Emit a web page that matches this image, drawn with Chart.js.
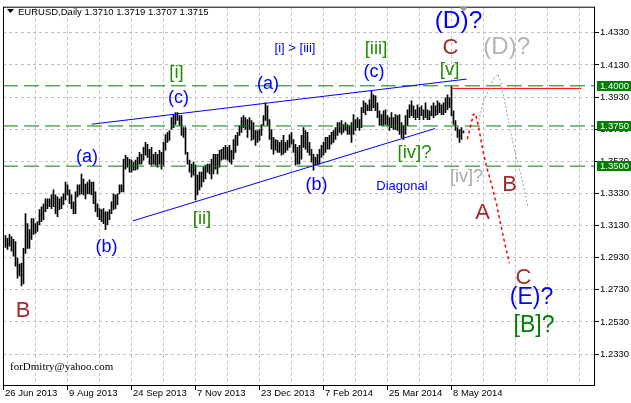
<!DOCTYPE html>
<html>
<head>
<meta charset="utf-8">
<script src="https://cdn.jsdelivr.net/npm/chart.js@4.4.0/dist/chart.umd.min.js"></script>
<style>
  html, body { margin:0; padding:0; background:#fff; }
  canvas { display:block; }
</style>
</head>
<body>
<canvas id="c" width="631" height="403"></canvas>
<script>
(function(){
  // ---------- data ----------
  const symbol = "EURUSD", period = "Daily";
  const lastBar = [1.3710, 1.3719, 1.3707, 1.3715]; // O H L C

  const barHigh = [
    1.3068,1.3050,1.3075,1.3062,1.3044,1.3031,1.2927,1.2890,1.2896,1.2988,
    1.3204,1.3142,1.3105,1.3173,1.3173,1.3142,1.3155,1.3229,1.3247,1.3266,
    1.3296,1.3296,1.3296,1.3321,1.3352,1.3321,1.3309,1.3296,1.3309,1.3327,
    1.3401,1.3383,1.3352,1.3321,1.3278,1.3340,1.3383,1.3383,
    1.3451,1.3420,1.3389,1.3401,1.3414,1.3401,1.3401,1.3340,1.3266,1.3235,
    1.3229,1.3235,1.3216,1.3216,1.3229,1.3278,1.3327,1.3321,1.3327,1.3383,
    1.3383,1.3543,1.3568,1.3555,1.3543,1.3537,1.3525,1.3537,1.3555,1.3586,
    1.3574,1.3617,1.3648,1.3636,1.3605,1.3617,1.3574,1.3586,1.3574,
    1.3599,1.3586,1.3648,1.3697,1.3710,1.3722,1.3802,1.3821,1.3833,1.3833,
    1.3814,1.3814,1.3740,1.3740,1.3586,1.3537,1.3512,1.3525,1.3506,1.3444,
    1.3463,1.3463,1.3494,1.3506,1.3512,1.3512,1.3543,1.3574,1.3574,1.3574,
    1.3599,1.3605,1.3617,1.3629,1.3617,1.3629,1.3599,1.3666,1.3691,
    1.3710,1.3753,1.3802,1.3814,1.3802,1.3790,1.3802,1.3784,1.3771,1.3722,
    1.3722,1.3728,1.3759,1.3814,1.3894,1.3876,1.3790,1.3728,1.3679,1.3666,
    1.3660,1.3648,1.3660,1.3691,1.3648,1.3660,1.3697,1.3710,1.3666,1.3636,
    1.3617,1.3629,1.3691,1.3740,1.3722,1.3710,1.3648,1.3605,1.3574,
    1.3555,1.3574,1.3605,1.3629,1.3648,1.3679,1.3679,1.3691,1.3710,1.3722,
    1.3740,1.3771,1.3771,1.3784,1.3759,1.3771,1.3759,1.3753,1.3771,1.3821,
    1.3790,1.3802,1.3790,1.3864,1.3907,1.3894,1.3882,1.3913,1.3968,1.3944,
    1.3938,1.3894,1.3845,1.3821,1.3845,1.3851,1.3814,1.3802,1.3833,
    1.3802,1.3821,1.3814,1.3821,1.3771,1.3753,1.3814,1.3851,1.3882,1.3907,
    1.3876,1.3851,1.3882,1.3864,1.3876,1.3851,1.3894,1.3851,1.3845,1.3876,
    1.3894,1.3876,1.3907,1.3894,1.3882,1.3894,1.3925,1.3944,1.3925,1.3996,
    1.3845,1.3784,1.3740,1.3728,1.3740,1.3719
  ];
  const barLow = [
    1.2994,1.2982,1.3001,1.2970,1.2939,1.2877,1.2803,1.2816,1.2754,1.2766,
    1.2957,1.2988,1.2988,1.3044,1.3075,1.3081,1.3093,1.3136,1.3155,1.3167,
    1.3216,1.3235,1.3247,1.3235,1.3247,1.3204,1.3186,1.3229,1.3235,1.3260,
    1.3290,1.3321,1.3266,1.3235,1.3204,1.3204,1.3309,1.3321,
    1.3327,1.3321,1.3296,1.3327,1.3327,1.3321,1.3266,1.3216,1.3186,1.3167,
    1.3155,1.3142,1.3105,1.3136,1.3167,1.3204,1.3229,1.3235,1.3260,1.3327,
    1.3340,1.3340,1.3481,1.3494,1.3463,1.3463,1.3475,1.3475,1.3481,1.3512,
    1.3512,1.3537,1.3568,1.3555,1.3512,1.3506,1.3512,1.3506,1.3494,
    1.3512,1.3481,1.3506,1.3599,1.3648,1.3660,1.3728,1.3740,1.3759,1.3784,
    1.3753,1.3691,1.3679,1.3574,1.3512,1.3463,1.3432,1.3444,1.3290,1.3321,
    1.3352,1.3370,1.3401,1.3420,1.3463,1.3451,1.3420,1.3451,1.3481,1.3451,
    1.3494,1.3537,1.3543,1.3543,1.3537,1.3525,1.3512,1.3543,1.3586,
    1.3629,1.3691,1.3710,1.3740,1.3728,1.3679,1.3728,1.3660,1.3666,1.3629,
    1.3648,1.3660,1.3691,1.3753,1.3784,1.3753,1.3666,1.3605,1.3574,1.3599,
    1.3586,1.3586,1.3568,1.3574,1.3586,1.3599,1.3617,1.3636,1.3586,1.3506,
    1.3512,1.3512,1.3543,1.3617,1.3605,1.3586,1.3568,1.3525,1.3475,
    1.3506,1.3506,1.3512,1.3555,1.3568,1.3586,1.3605,1.3605,1.3636,1.3648,
    1.3666,1.3691,1.3710,1.3697,1.3710,1.3722,1.3697,1.3697,1.3648,1.3697,
    1.3722,1.3740,1.3722,1.3740,1.3833,1.3821,1.3845,1.3845,1.3845,1.3864,
    1.3845,1.3802,1.3753,1.3753,1.3753,1.3759,1.3753,1.3722,1.3740,
    1.3728,1.3728,1.3722,1.3697,1.3679,1.3666,1.3697,1.3753,1.3802,1.3814,
    1.3802,1.3790,1.3802,1.3790,1.3814,1.3790,1.3802,1.3790,1.3790,1.3814,
    1.3802,1.3814,1.3821,1.3833,1.3821,1.3821,1.3833,1.3851,1.3864,1.3814,
    1.3759,1.3722,1.3679,1.3648,1.3666,1.3707
  ];

  const yTicks = [1.2330,1.2530,1.2730,1.2930,1.3130,1.3330,1.3530,1.3730,1.3930,1.4130,1.4330];
  const gridBars = [-1,15,31,47,63,79,95,111,127,143,159,175,191,207,223,239,255,271,287];
  const dateLabels = ["26 Jun 2013","9 Aug 2013","24 Sep 2013","7 Nov 2013","23 Dec 2013",
                      "7 Feb 2014","25 Mar 2014","8 May 2014"];

  const levels = [1.4000, 1.3750, 1.3500];
  const redLine = [[223, 1.3984], [288, 1.3984]];
  const upperTrend = [[43.1, 1.3761], [230.6, 1.4042]];
  const lowerTrend = [[63.6, 1.3159], [214.75, 1.3734]];
  const redPath = [[230.9,1.3668],[232.5,1.3747],[233.9,1.3821],[235,1.3827],[236.4,1.3753],
                   [238.6,1.3605],[240.6,1.3494],[243.1,1.3383],[245.6,1.3260],[247.25,1.3155],
                   [249.75,1.3013],[252,1.2896]];
  const grayPath = [[236.25,1.3759],[238.75,1.3895],[241.75,1.3981],[244.25,1.4049],[246.25,1.4073],
                    [247.75,1.4018],[249.75,1.3895],[251.75,1.3765],[254.75,1.3586],[258.25,1.3420],
                    [261.25,1.3241]];

  // text, bar index, price, style
  const waveLabels = [
    ["(a)", 40.75, 1.3549, "blueM"],
    ["(b)", 50.5, 1.2988, "blueM"],
    ["(c)", 86.5, 1.3916, "blueM"],
    ["[i]", 85.5, 1.4073, "greenM"],
    ["[ii]", 98.25, 1.3161, "greenM"],
    ["(a)", 131.25, 1.4002, "blueM"],
    ["(b)", 155.5, 1.3370, "blueM"],
    ["(c)", 184.25, 1.4079, "blueM"],
    ["[iii]", 185.25, 1.4218, "greenM"],
    ["[iv]?", 204.5, 1.3574, "greenM"],
    ["[v]", 222, 1.4092, "greenM"],
    ["C", 222.5, 1.4234, "brown"],
    ["(D)?", 226.5, 1.4388, "blueL"],
    ["(D)?", 250.6, 1.4227, "grayL"],
    ["[iv]?", 230.5, 1.3420, "grayM"],
    ["B", 252, 1.3383, "brown"],
    ["A", 238.5, 1.3210, "brown"],
    ["C", 259, 1.2806, "brown"],
    ["(E)?", 263, 1.2668, "blueE"],
    ["[B]?", 264.25, 1.2495, "greenL"],
    ["B", 8.75, 1.2600, "brown"],
    ["[i] > [iii]", 144.75, 1.4227, "blueS"],
    ["Diagonal", 198.25, 1.3367, "blueS"]
  ];
  const signature = "forDmitry@yahoo.com";

  // ---------- styles ----------
  const FONT = '"Liberation Sans", Arial, sans-serif';
  const labelStyles = {
    blueM:  { size: 18,   color: "#0000ff" },
    greenM: { size: 18.5, color: "#228b00" },
    brown:  { size: 22,   color: "#a52a2a" },
    blueL:  { size: 24.5, color: "#0000ff" },
    grayL:  { size: 24,   color: "#b4b4b4" },
    grayM:  { size: 18,   color: "#a9a9a9" },
    blueE:  { size: 23,   color: "#0000ff" },
    greenL: { size: 23,   color: "#008000" },
    blueS:  { size: 13,   color: "#0000ff" }
  };

  const pts = arr => arr.map(p => ({ x: p[0], y: p[1] }));
  const X_MIN = -1.25, X_MAX = 294.25;

  const datasets = [];
  datasets.push({
    type: "bar",
    data: barHigh.map((h, i) => ({ x: i, y: [barLow[i], h] })),
    backgroundColor: "#000",
    borderWidth: 0,
    barThickness: 1,
    grouped: false,
    order: 10
  });
  levels.forEach(lv => datasets.push({
    type: "line", data: [{ x: X_MIN, y: lv }, { x: X_MAX, y: lv }],
    borderColor: "#008000", borderWidth: 1, borderDash: [15, 6],
    pointRadius: 0, order: 5
  }));
  datasets.push({ type: "line", data: pts(redLine), borderColor: "#ff0000", borderWidth: 1, pointRadius: 0, order: 4 });
  datasets.push({ type: "line", data: pts(upperTrend), borderColor: "#0000ff", borderWidth: 1, pointRadius: 0, order: 3 });
  datasets.push({ type: "line", data: pts(lowerTrend), borderColor: "#0000ff", borderWidth: 1, pointRadius: 0, order: 3 });
  datasets.push({ type: "line", data: pts(grayPath), borderColor: "#a0a0a0", borderWidth: 1, borderDash: [2, 2], pointRadius: 0, order: 2 });
  datasets.push({ type: "line", data: pts(redPath), borderColor: "#ff0000", borderWidth: 1.5, borderDash: [3, 3], pointRadius: 0, order: 1 });

  // ---------- overlay: frame, header, labels ----------
  const overlay = {
    id: "overlay",
    afterDraw(chart){
      const { ctx, chartArea: a, scales: { x, y } } = chart;
      ctx.save();

      ctx.strokeStyle = "#000";
      ctx.lineWidth = 1;
      ctx.strokeRect(a.left + 0.5, a.top + 0.5, a.right - a.left, a.bottom - a.top);

      // header
      ctx.fillStyle = "#000";
      ctx.beginPath();
      ctx.moveTo(7, 9); ctx.lineTo(14, 9); ctx.lineTo(10.5, 13); ctx.closePath();
      ctx.fill();
      ctx.font = "9.5px " + FONT;
      ctx.textAlign = "left";
      ctx.textBaseline = "alphabetic";
      ctx.fillText(symbol + "," + period + " " + lastBar.map(v => v.toFixed(4)).join(" "), 18, 15);

      // shift marker
      const sx = x.getPixelForValue(barHigh.length - 1);
      ctx.fillStyle = "#a0a0a0";
      ctx.beginPath();
      ctx.moveTo(sx - 4, a.top + 0.5); ctx.lineTo(sx + 4, a.top + 0.5); ctx.lineTo(sx, a.top + 5.5); ctx.closePath();
      ctx.fill();

      // level price boxes
      levels.forEach(lv => {
        const py = y.getPixelForValue(lv);
        ctx.fillStyle = "#008000";
        ctx.fillRect(597, Math.round(py) - 5, 34, 10);
        ctx.fillStyle = "#fff";
        ctx.font = "9.5px " + FONT;
        ctx.textAlign = "left";
        ctx.textBaseline = "middle";
        ctx.fillText(lv.toFixed(4), 600, Math.round(py));
      });

      // wave labels
      ctx.textAlign = "center";
      ctx.textBaseline = "middle";
      waveLabels.forEach(([t, i, p, k]) => {
        const st = labelStyles[k];
        ctx.font = st.size + "px " + FONT;
        ctx.fillStyle = st.color;
        const dy = /[\[\(g]/.test(t) ? -0.087 * st.size : 0;
        ctx.fillText(t, x.getPixelForValue(i), y.getPixelForValue(p) + dy);
      });

      // signature
      ctx.font = '11px "Liberation Serif", "Times New Roman", serif';
      ctx.fillStyle = "#000";
      ctx.textAlign = "left";
      ctx.textBaseline = "alphabetic";
      ctx.fillText(signature, a.left + 7, a.bottom - 15.5);

      ctx.restore();
    }
  };

  new Chart(document.getElementById("c"), {
    type: "bar",
    data: { datasets },
    plugins: [overlay],
    options: {
      responsive: false,
      devicePixelRatio: 1,
      animation: false,
      events: [],
      layout: { padding: { left: 3, top: 3, right: 0, bottom: 0 } },
      plugins: { legend: { display: false }, tooltip: { enabled: false } },
      scales: {
        x: {
          type: "linear", min: X_MIN, max: X_MAX, offset: false,
          afterBuildTicks: s => { s.ticks = gridBars.map(v => ({ value: v })); },
          afterFit: s => { s.height = 18; },
          grid: {
            offset: false, color: "#c0c0c0", lineWidth: 1, tickLength: 5,
            tickColor: c => (c.index % 2 === 0 && c.index / 2 < dateLabels.length) ? "#000" : "rgba(0,0,0,0)"
          },
          border: { display: false, dash: [3, 3] },
          ticks: {
            autoSkip: false, maxRotation: 0, minRotation: 0, align: "start",
            padding: -2, labelOffset: 1.5, color: "#000",
            font: { family: FONT, size: 9.5 },
            callback: (v, i) => (i % 2 === 0 && i / 2 < dateLabels.length) ? dateLabels[i / 2] : ""
          }
        },
        y: {
          position: "right", min: 1.21375, max: 1.44925,
          afterBuildTicks: s => { s.ticks = yTicks.map(v => ({ value: v })); },
          afterFit: s => { s.width = 37; },
          grid: { color: "#c0c0c0", lineWidth: 1, tickLength: 5, tickColor: "#000" },
          border: { display: false, dash: [3, 3] },
          ticks: {
            padding: 1, color: "#000",
            font: { family: FONT, size: 9.5 },
            callback: v => v.toFixed(4)
          }
        }
      }
    }
  });
})();
</script>
</body>
</html>
